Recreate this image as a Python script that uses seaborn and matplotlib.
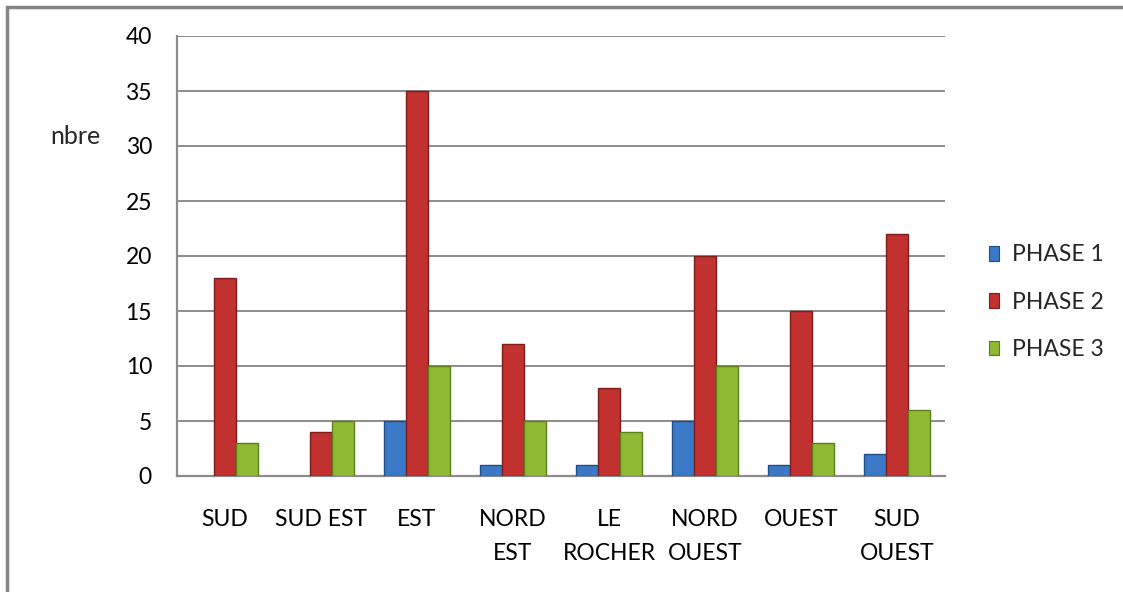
import matplotlib
matplotlib.use("Agg")
import matplotlib.pyplot as plt
from matplotlib.patches import Rectangle
import seaborn as sns
import pandas as pd

categories = ["SUD", "SUD EST", "EST", "NORD\nEST", "LE\nROCHER",
              "NORD\nOUEST", "OUEST", "SUD\nOUEST"]
phases = ["PHASE 1", "PHASE 2", "PHASE 3"]
phase1 = [0, 0, 5, 1, 1, 5, 1, 2]
phase2 = [18, 4, 35, 12, 8, 20, 15, 22]
phase3 = [3, 5, 10, 5, 4, 10, 3, 6]
y_ticks = [0, 5, 10, 15, 20, 25, 30, 35, 40]

colors = ["#3b78c6", "#c1312f", "#8fba34"]
edges = ["#1f4f8a", "#7e1c1a", "#5d7d1c"]

rows = []
for name, vals in zip(phases, [phase1, phase2, phase3]):
    for cat, v in zip(categories, vals):
        if v > 0:
            rows.append({"zone": cat, "phase": name, "nbre": v})
df = pd.DataFrame(rows)

sns.set_theme(style="white")
plt.rcParams["font.family"] = ["Lato", "DejaVu Sans"]
FS = 16.5

fig = plt.figure(figsize=(11.23, 5.92), dpi=100)
ax = fig.add_axes([177 / 1123, 1 - 476 / 592, (945 - 177) / 1123, (476 - 36) / 592])

sns.barplot(data=df, x="zone", y="nbre", hue="phase", order=categories,
            hue_order=phases, palette=colors, width=0.69, ax=ax,
            saturation=1, errorbar=None, legend=True, zorder=3)

# darker outline per series
for container, ec in zip(ax.containers, edges):
    for bar in container:
        bar.set_edgecolor(ec)
        bar.set_linewidth(1.0)

ax.set_ylim(0, 40)
ax.set_xlim(-0.5, len(categories) - 0.5)
ax.set_yticks(y_ticks)
ax.yaxis.grid(True, color="#8c8c8c", linewidth=1.4, zorder=0)
ax.set_axisbelow(True)
for side in ["top", "right"]:
    ax.spines[side].set_visible(False)
for side in ["left", "bottom"]:
    ax.spines[side].set_color("#8c8c8c")
    ax.spines[side].set_linewidth(1.6)

ax.tick_params(axis="y", length=0, pad=18, labelsize=FS, labelcolor="#000000")
ax.tick_params(axis="x", length=0, pad=24, labelsize=FS, labelcolor="#000000")
for lbl in ax.get_xticklabels():
    lbl.set_linespacing(1.75)
    lbl.set_verticalalignment("top")
ax.set_xlabel("")
ax.set_ylabel("")

fig.text(75 / 1123, 1 - 136 / 592, "nbre", fontsize=18, ha="center", va="center")

handles, labels = ax.get_legend_handles_labels()
leg = ax.legend(handles, labels, loc="center left", bbox_to_anchor=(1.031, 0.395),
                frameon=False, fontsize=FS, labelspacing=1.15,
                handlelength=0.42, handleheight=0.6, handletextpad=0.55)
for h, ec in zip(leg.legend_handles, edges):
    h.set_edgecolor(ec)
    h.set_linewidth(0.8)

# outer chart frame (top and left edges visible)
fig.patches.append(Rectangle((7 / 1123, -0.1), 1.2, 1.1 - 7 / 592,
                             transform=fig.transFigure, fill=False,
                             edgecolor="#858585", linewidth=2.5))

fig.savefig("out.png", dpi=100, facecolor="white")
